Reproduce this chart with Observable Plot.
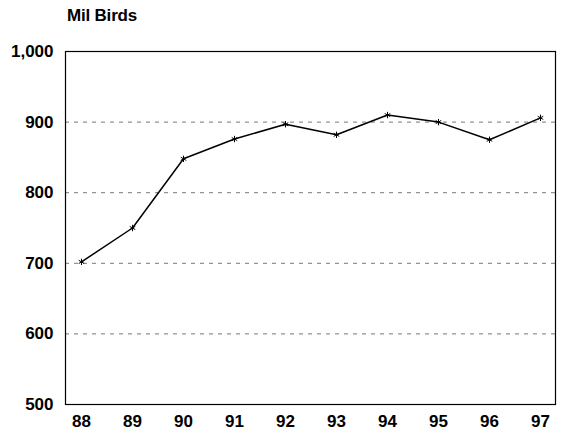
<!DOCTYPE html>
<html>
<head>
<meta charset="utf-8">
<script src="https://cdn.jsdelivr.net/npm/d3@7"></script>
<script src="https://cdn.jsdelivr.net/npm/@observablehq/plot@0.6"></script>
<style>
  html, body { margin: 0; padding: 0; background: #fff; }
  #wrap { width: 561px; height: 432px; position: relative; font-family: "Liberation Sans", Arial, sans-serif; }
  #title { position: absolute; left: 67px; top: 7px; font-size: 17px; line-height: 17px; font-weight: bold; color: #000; letter-spacing: -0.2px; }
  #chart { position: absolute; left: 0; top: 30px; }
</style>
</head>
<body>
<div id="wrap">
  <div id="title">Mil Birds</div>
  <div id="chart"></div>
</div>
<script>
const years = ["88", "89", "90", "91", "92", "93", "94", "95", "96", "97"];
const birds = [702, 750, 848, 876, 897, 882, 910, 900, 875, 906];
const yTicks = [500, 600, 700, 800, 900, 1000];
const gridValues = [600, 700, 800, 900];

const data = years.map((y, i) => ({year: y, value: birds[i]}));

const chart = Plot.plot({
  width: 561,
  height: 402,
  marginTop: 21,
  marginBottom: 28,
  marginLeft: 65,
  marginRight: 6,
  style: {fontFamily: "Liberation Sans, Arial, sans-serif", fontSize: "17px", fontWeight: "bold", color: "#000", background: "#fff"},
  x: {type: "point", domain: years, padding: 0.25, label: null, tickSize: 0, tickPadding: 10},
  y: {domain: [500, 1000], ticks: yTicks, tickFormat: d3.format(","), label: null, tickSize: 0, tickPadding: 12},
  marks: [
    Plot.ruleY(gridValues, {stroke: "#555", strokeWidth: 0.8, strokeDasharray: "4,5"}),
    Plot.frame({stroke: "#000", strokeWidth: 1.2}),
    Plot.line(data, {x: "year", y: "value", stroke: "#000", strokeWidth: 1.5}),
    Plot.dot(data, {x: "year", y: "value", symbol: "asterisk", r: 3, stroke: "#000", strokeWidth: 1})
  ]
});
document.getElementById("chart").appendChild(chart);
</script>
</body>
</html>
